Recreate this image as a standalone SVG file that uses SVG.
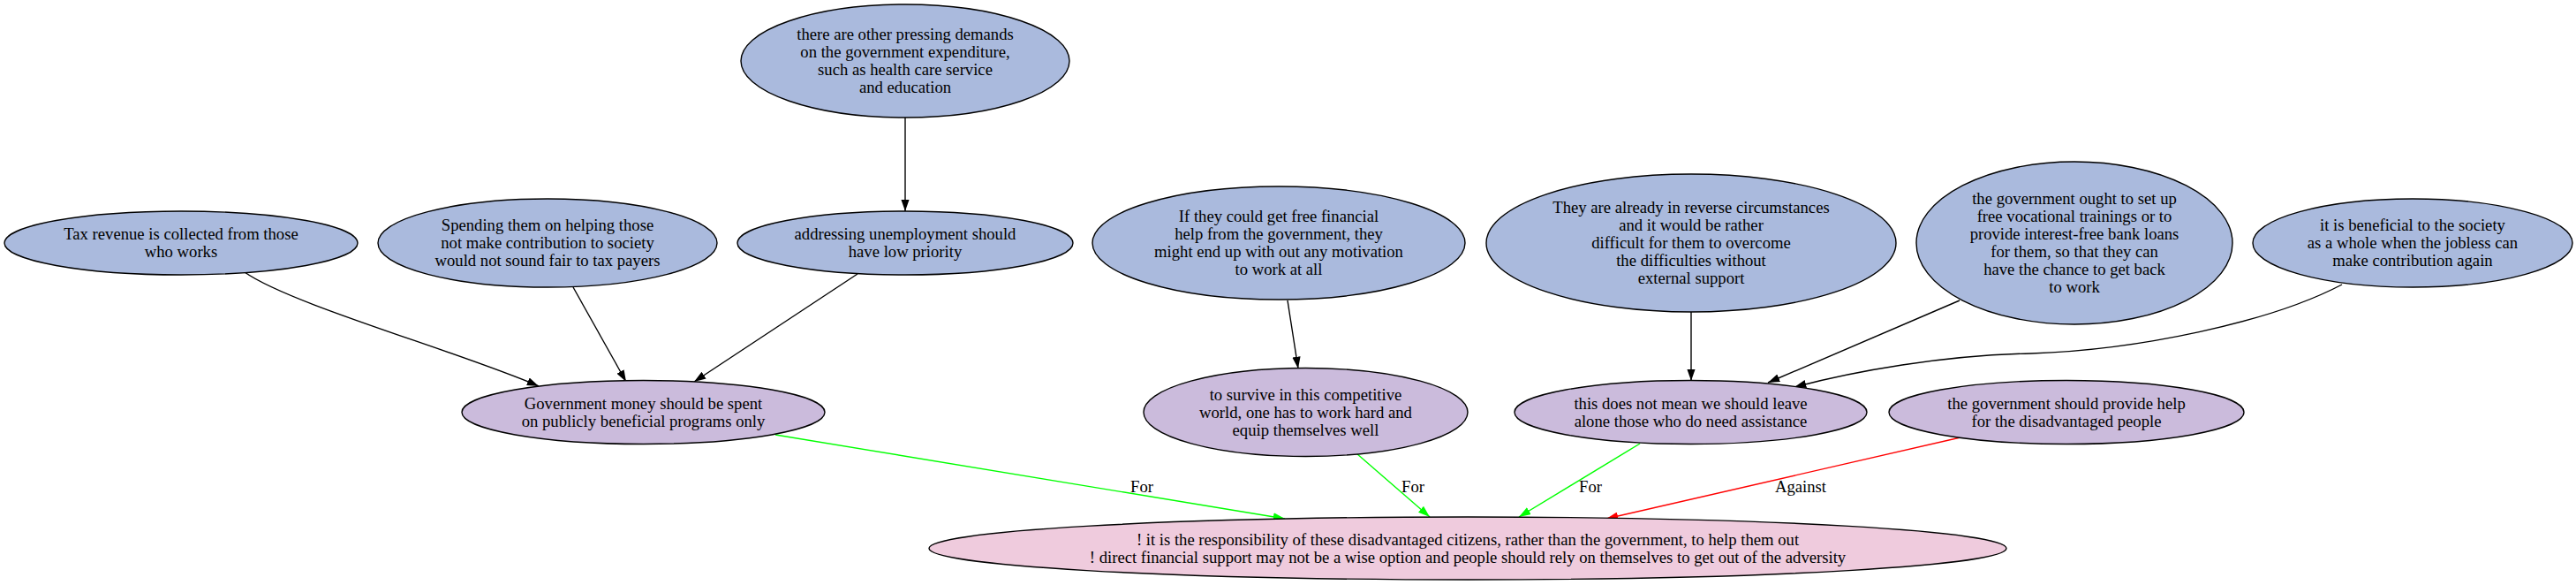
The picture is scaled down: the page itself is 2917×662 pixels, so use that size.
<svg xmlns="http://www.w3.org/2000/svg" width="2917" height="662" viewBox="0 0 2917 662">
<style>
.bg{fill:#ffffff}
.node ellipse{stroke:#000000;stroke-width:1.4}
.prem ellipse{fill:#aabadd}
.mid ellipse{fill:#cbbbdc}
.concl ellipse{fill:#efcbdd}
text{font-family:"Liberation Serif","Times New Roman",serif;font-size:18.67px;fill:#000000;text-anchor:middle}
.e{fill:none;stroke-width:1.4}
.k{stroke:#000000}
.g{stroke:#00ff00}
.r{stroke:#ff0000}
</style>
<defs>
<marker id="ak" viewBox="0 0 10 7" refX="10" refY="3.5" markerWidth="13.3" markerHeight="9.3" markerUnits="userSpaceOnUse" orient="auto"><path d="M0,0 L10,3.5 L0,7 z" fill="#000000"/></marker>
<marker id="ag" viewBox="0 0 10 7" refX="10" refY="3.5" markerWidth="13.3" markerHeight="9.3" markerUnits="userSpaceOnUse" orient="auto"><path d="M0,0 L10,3.5 L0,7 z" fill="#00ff00"/></marker>
<marker id="ar" viewBox="0 0 10 7" refX="10" refY="3.5" markerWidth="13.3" markerHeight="9.3" markerUnits="userSpaceOnUse" orient="auto"><path d="M0,0 L10,3.5 L0,7 z" fill="#ff0000"/></marker>
</defs>
<rect class="bg" x="0" y="0" width="2917" height="662"/>

<g id="connectors">
<path class="e k" d="M1025,133 L1025,239" marker-end="url(#ak)"/>
<path class="e k" d="M277,308 C330,345 520,398 610,437" marker-end="url(#ak)"/>
<path class="e k" d="M649,325 L709,432" marker-end="url(#ak)"/>
<path class="e k" d="M971,310 L786,432" marker-end="url(#ak)"/>
<path class="e k" d="M1458,340 L1470,417" marker-end="url(#ak)"/>
<path class="e k" d="M1915,353 L1915,431" marker-end="url(#ak)"/>
<path class="e k" d="M2219,340 L2002,433" marker-end="url(#ak)"/>
<path class="e k" d="M2652,322 C2570,365 2420,396 2300,400 C2200,402 2100,420 2032,438" marker-end="url(#ak)"/>
<path class="e g" d="M878,492 L1455,587" marker-end="url(#ag)"/>
<path class="e g" d="M1536,513 L1619,585" marker-end="url(#ag)"/>
<path class="e g" d="M1857,502 L1720,585" marker-end="url(#ag)"/>
<path class="e r" d="M2220,495 L1819,587" marker-end="url(#ar)"/>
<text x="1293" y="557">For</text>
<text x="1600" y="557">For</text>
<text x="1801" y="557">For</text>
<text x="2039" y="557">Against</text>
</g>

<g id="n_pressing" class="node prem">
<ellipse cx="1025" cy="69" rx="186" ry="64"/>
<text x="1025" y="45">there are other pressing demands</text>
<text x="1025" y="65">on the government expenditure,</text>
<text x="1025" y="85">such as health care service</text>
<text x="1025" y="105">and education</text>
</g>

<g id="n_tax" class="node prem">
<ellipse cx="205" cy="275" rx="200" ry="36"/>
<text x="205" y="271">Tax revenue is collected from those</text>
<text x="205" y="291">who works</text>
</g>

<g id="n_spending" class="node prem">
<ellipse cx="620" cy="275" rx="192" ry="50"/>
<text x="620" y="261">Spending them on helping those</text>
<text x="620" y="281">not make contribution to society</text>
<text x="620" y="301">would not sound fair to tax payers</text>
</g>

<g id="n_addressing" class="node prem">
<ellipse cx="1025" cy="275" rx="190" ry="36"/>
<text x="1025" y="271">addressing unemployment should</text>
<text x="1025" y="291">have low priority</text>
</g>

<g id="n_iffree" class="node prem">
<ellipse cx="1448" cy="275" rx="211" ry="64"/>
<text x="1448" y="251">If they could get free financial</text>
<text x="1448" y="271">help from the government, they</text>
<text x="1448" y="291">might end up with out any motivation</text>
<text x="1448" y="311">to work at all</text>
</g>

<g id="n_reverse" class="node prem">
<ellipse cx="1915" cy="275" rx="232" ry="78"/>
<text x="1915" y="241">They are already in reverse circumstances</text>
<text x="1915" y="261">and it would be rather</text>
<text x="1915" y="281">difficult for them to overcome</text>
<text x="1915" y="301">the difficulties without</text>
<text x="1915" y="321">external support</text>
</g>

<g id="n_vocational" class="node prem">
<ellipse cx="2349" cy="275" rx="179" ry="92"/>
<text x="2349" y="231">the government ought to set up</text>
<text x="2349" y="251">free vocational trainings or to</text>
<text x="2349" y="271">provide interest-free bank loans</text>
<text x="2349" y="291">for them, so that they can</text>
<text x="2349" y="311">have the chance to get back</text>
<text x="2349" y="331">to work</text>
</g>

<g id="n_beneficial" class="node prem">
<ellipse cx="2732" cy="275" rx="181" ry="50"/>
<text x="2732" y="261">it is beneficial to the society</text>
<text x="2732" y="281">as a whole when the jobless can</text>
<text x="2732" y="301">make contribution again</text>
</g>

<g id="n_govmoney" class="node mid">
<ellipse cx="728.5" cy="466.5" rx="205.5" ry="36"/>
<text x="728.5" y="462.5">Government money should be spent</text>
<text x="728.5" y="482.5">on publicly beneficial programs only</text>
</g>

<g id="n_survive" class="node mid">
<ellipse cx="1478.5" cy="466.5" rx="183.5" ry="50"/>
<text x="1478.5" y="452.5">to survive in this competitive</text>
<text x="1478.5" y="472.5">world, one has to work hard and</text>
<text x="1478.5" y="492.5">equip themselves well</text>
</g>

<g id="n_leave" class="node mid">
<ellipse cx="1914.5" cy="466.5" rx="199.5" ry="36"/>
<text x="1914.5" y="462.5">this does not mean we should leave</text>
<text x="1914.5" y="482.5">alone those who do need assistance</text>
</g>

<g id="n_provide" class="node mid">
<ellipse cx="2340" cy="466.5" rx="201" ry="36"/>
<text x="2340" y="462.5">the government should provide help</text>
<text x="2340" y="482.5">for the disadvantaged people</text>
</g>

<g id="n_claim" class="node concl">
<ellipse cx="1662" cy="620.5" rx="610" ry="35.5"/>
<text x="1662" y="616.5">! it is the responsibility of these disadvantaged citizens, rather than the government, to help them out</text>
<text x="1662" y="636.5">! direct financial support may not be a wise option and people should rely on themselves to get out of the adversity</text>
</g>
</svg>
